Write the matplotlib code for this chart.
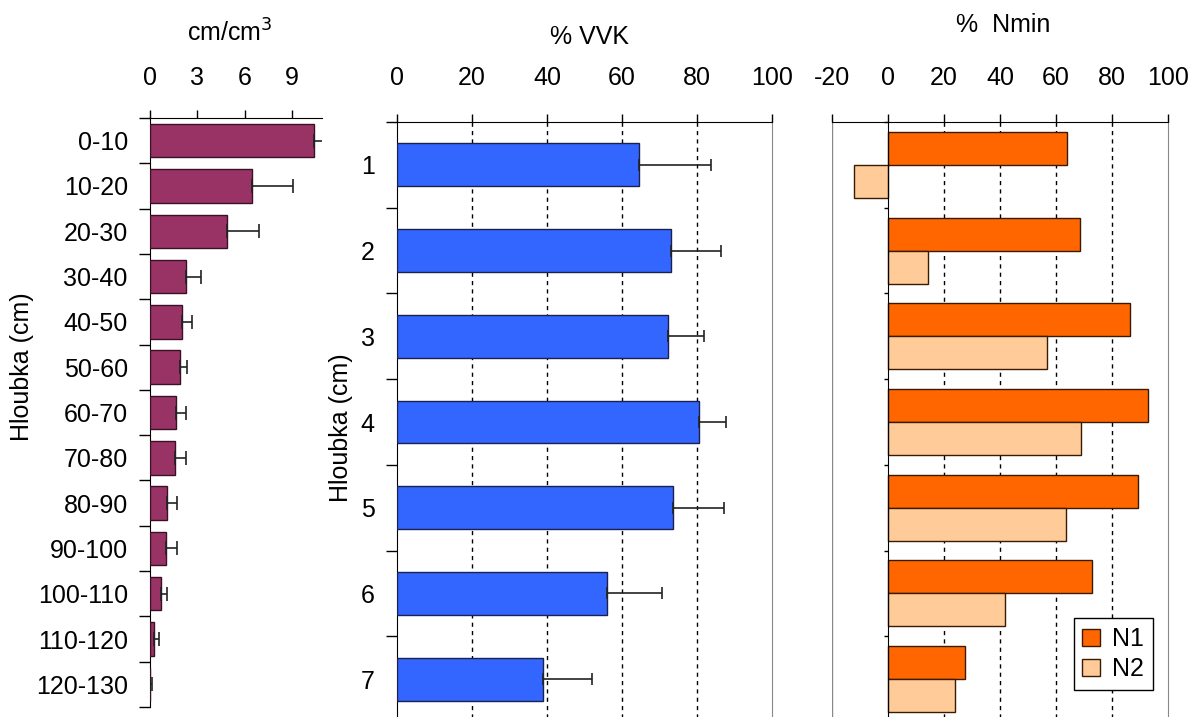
import numpy as np
import matplotlib
matplotlib.use("Agg")
from matplotlib import pyplot as plt
from matplotlib.patches import Patch

plt.rcParams['font.family'] = ['Liberation Sans', 'DejaVu Sans']
plt.rcParams['axes.unicode_minus'] = False

# root length density per depth layer
depth_labels = ['0-10', '10-20', '20-30', '30-40', '40-50', '50-60', '60-70',
                '70-80', '80-90', '90-100', '100-110', '110-120', '120-130']
root_vals = [10.4, 6.48, 4.87, 2.27, 2.03, 1.9, 1.63, 1.57, 1.06, 1.0, 0.7, 0.28, 0.03]
root_err = [0.9, 2.58, 2.05, 0.95, 0.66, 0.43, 0.63, 0.7, 0.67, 0.73, 0.36, 0.31, 0.08]

# % VVK
layer_labels = ['1', '2', '3', '4', '5', '6', '7']
vvk_vals = [64.5, 73.1, 72.2, 80.4, 73.5, 56.0, 38.9]
vvk_err = [19.3, 13.4, 9.6, 7.3, 13.6, 14.7, 13.1]

# % Nmin
n1_vals = [63.9, 68.4, 86.5, 92.8, 89.2, 72.8, 27.4]
n2_vals = [-12.1, 14.3, 56.8, 68.7, 63.4, 41.7, 23.9]

W, H = 1193, 717
fig = plt.figure(figsize=(W / 100, H / 100), dpi=100)

def px_axes(x0, x1, y0, y1):
    # pixel box (top-left origin) -> figure axes
    return fig.add_axes([x0 / W, 1 - y1 / H, (x1 - x0) / W, (y1 - y0) / H])

FS = 18

def style_top(ax):
    ax.xaxis.tick_top()
    ax.tick_params(axis='x', direction='out', length=6, width=1, pad=17, labelsize=FS)
    ax.tick_params(axis='y', which='major', length=0, pad=16, labelsize=FS)
    ax.tick_params(axis='y', which='minor', direction='out', length=8, width=1)
    ax.spines['bottom'].set_visible(False)
    ax.spines['right'].set_visible(False)

# ---- left panel ----
ax1 = px_axes(150, 322, 118, 707)
y1 = np.arange(len(depth_labels))
ax1.barh(y1, root_vals, height=0.74, color='#993366', edgecolor='#3a1025', linewidth=1, zorder=3)
eb = ax1.errorbar(root_vals, y1, xerr=[np.zeros(len(root_err)), root_err], fmt='none',
                  ecolor='#222222', elinewidth=1.2, capsize=5, capthick=1.2, zorder=4)
for part in eb.lines[1] + eb.lines[2]:
    part.set_clip_on(True)
ax1.set_xlim(0, 10.92)
ax1.set_ylim(len(depth_labels) - 0.5, -0.5)
ax1.set_xticks([0, 3, 6, 9])
ax1.set_yticks(y1)
ax1.set_yticklabels(depth_labels)
ax1.set_yticks(np.arange(-0.5, len(depth_labels)), minor=True)
style_top(ax1)
ax1.tick_params(axis='x', pad=14)

# ---- middle panel ----
ax2 = px_axes(397, 772, 122, 722)
y2 = np.arange(len(layer_labels))
for g in [20, 40, 60, 80]:
    ax2.axvline(g, color='black', linestyle=(0, (3, 3)), linewidth=1, zorder=1)
ax2.barh(y2, vvk_vals, height=0.5, color='#3366FF', edgecolor='#1a2050', linewidth=1, zorder=3)
ax2.errorbar(vvk_vals, y2, xerr=[np.zeros(len(vvk_err)), vvk_err], fmt='none',
             ecolor='#222222', elinewidth=1.2, capsize=4, capthick=1.2, zorder=4)
ax2.set_xlim(0, 100)
ax2.set_ylim(len(layer_labels) - 0.5, -0.5)
ax2.set_xticks([0, 20, 40, 60, 80, 100])
ax2.set_yticks(y2)
ax2.set_yticklabels(layer_labels)
ax2.set_yticks(np.arange(-0.5, len(layer_labels)), minor=True)
style_top(ax2)
ax2.spines['right'].set_visible(True)
ax2.spines['right'].set_color('#888888')

# ---- right panel ----
ax3 = px_axes(831.7, 1168.3, 122, 722)
for g in [20, 40, 60, 80]:
    ax3.axvline(g, color='black', linestyle=(0, (3, 3)), linewidth=1, zorder=1)
bh = 0.385
ax3.barh(y2 - bh / 2, n1_vals, height=bh, color='#FF6600', edgecolor='#3a1a00',
         linewidth=1, zorder=3, label='N1')
ax3.barh(y2 + bh / 2, n2_vals, height=bh, color='#FFCC99', edgecolor='#3a1a00',
         linewidth=1, zorder=3, label='N2')
ax3.set_xlim(-20, 100)
ax3.set_ylim(len(layer_labels) - 0.5, -0.5)
ax3.set_xticks([-20, 0, 20, 40, 60, 80, 100])
ax3.set_yticks([])
ax3.set_yticks(np.arange(-0.5, len(layer_labels)), minor=True)
ax3.xaxis.tick_top()
ax3.tick_params(axis='x', direction='out', length=6, width=1, pad=17, labelsize=FS)
ax3.tick_params(axis='y', which='minor', direction='out', length=3, width=1)
ax3.spines['bottom'].set_visible(False)
ax3.spines['left'].set_position(('data', 0))
ax3.spines['left'].set_zorder(5)
ax3.spines['right'].set_color('#888888')
ax3.axvline(-20, color='#888888', linewidth=1, zorder=0)

leg = ax3.legend(handles=[Patch(facecolor='#FF6600', edgecolor='#3a1a00', label='N1'),
                          Patch(facecolor='#FFCC99', edgecolor='#3a1a00', label='N2')],
                 loc='lower right', bbox_to_anchor=(1153 / W, 1 - 690 / H),
                 bbox_transform=fig.transFigure, fontsize=FS, fancybox=False,
                 framealpha=1, edgecolor='black', handlelength=0.7, handleheight=0.7,
                 handletextpad=0.5, borderpad=0.35, labelspacing=0.25, borderaxespad=0)
leg.get_frame().set_linewidth(1)

# titles and axis labels
fig.text(230 / W, 1 - 33 / H, 'cm/cm$^3$', ha='center', va='center', fontsize=FS)
fig.text(589 / W, 1 - 37 / H, '% VVK', ha='center', va='center', fontsize=FS)
fig.text(1003 / W, 1 - 25 / H, '%  Nmin', ha='center', va='center', fontsize=FS)
fig.text(22 / W, 1 - 367 / H, 'Hloubka (cm)', ha='center', va='center', rotation=90, fontsize=FS)
fig.text(341 / W, 1 - 428 / H, 'Hloubka (cm)', ha='center', va='center', rotation=90, fontsize=FS)

fig.savefig('out.png', dpi=100)
